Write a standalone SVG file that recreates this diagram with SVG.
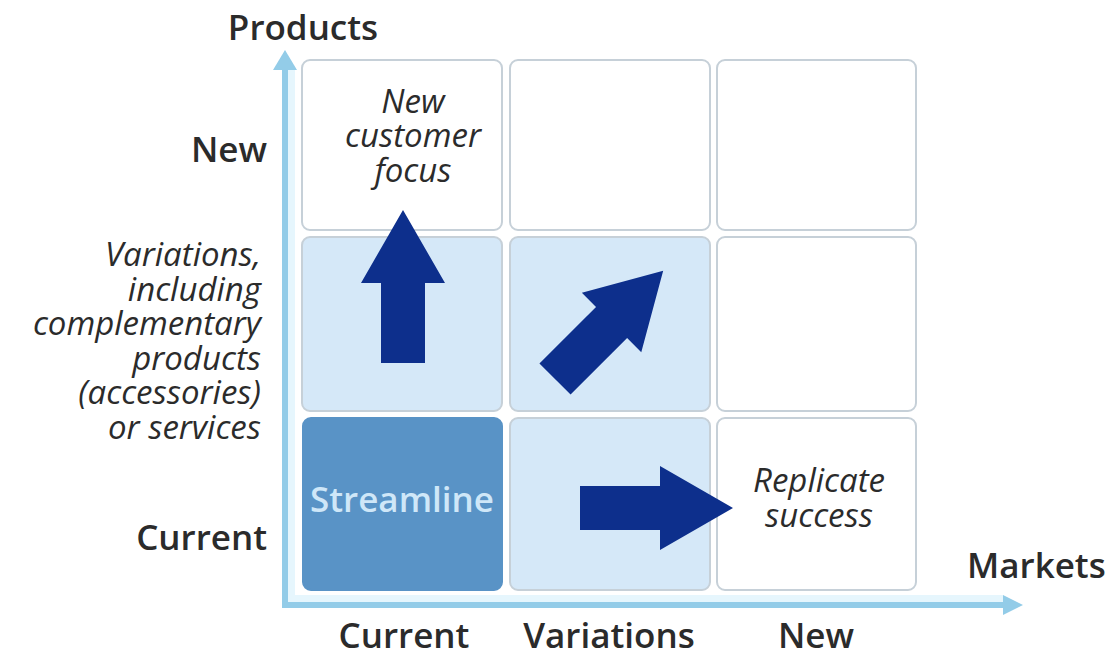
<svg xmlns="http://www.w3.org/2000/svg" width="1111" height="658" viewBox="0 0 1111 658">
<style>
.lbl{font-family:"Open Sans","Liberation Sans",sans-serif;font-weight:600;font-size:35px;fill:#2b2b2b}
.it{font-family:"Open Sans","Liberation Sans",sans-serif;font-style:italic;font-size:33px;fill:#2b2b2b}
.cell{stroke:#c6d0d8;stroke-width:2}
.w{fill:#ffffff}
.lb{fill:#d5e8f8}
.dk{fill:#5993c6;stroke:#5993c6}
.arr{fill:#0d2f8c}
.axis{stroke:#93cce8;stroke-width:6;fill:none}
</style>
<defs>
<path id="bigArrow" d="M0,-22 H80 V-42 L153,0 L80,42 V22 H0 Z"/>
</defs>
<rect width="1111" height="658" fill="#ffffff"/>
<g id="axes">
<path d="M291,70 V599 H1003" fill="none" stroke="#e6f6fd" stroke-width="8"/>
<path class="axis" d="M285,66 V605 H1005"/>
<polygon points="285,50 297,70 273,70" fill="#93cce8"/>
<polygon points="1023,605 1003,595 1003,615" fill="#93cce8"/>
</g>
<g id="cells">
<g id="c-new-current"><rect class="cell w" x="302" y="60" width="200" height="170" rx="8"/></g>
<g id="c-new-variations"><rect class="cell w" x="510" y="60" width="200" height="170" rx="8"/></g>
<g id="c-new-new"><rect class="cell w" x="717" y="60" width="199" height="170" rx="8"/></g>
<g id="c-var-current"><rect class="cell lb" x="302" y="237" width="200" height="174" rx="8"/></g>
<g id="c-var-variations"><rect class="cell lb" x="510" y="237" width="200" height="174" rx="8"/></g>
<g id="c-var-new"><rect class="cell w" x="717" y="237" width="199" height="174" rx="8"/></g>
<g id="c-cur-current"><rect class="cell dk" x="303" y="418" width="199" height="172" rx="8"/>
<text x="402" y="512" text-anchor="middle" class="lbl" style="fill:#cfe7f8">Streamline</text></g>
<g id="c-cur-variations"><rect class="cell lb" x="510" y="418" width="200" height="172" rx="8"/></g>
<g id="c-cur-new"><rect class="cell w" x="717" y="418" width="199" height="172" rx="8"/></g>
</g>
<g id="cell-labels">
<text class="it" text-anchor="middle"><tspan x="413" y="113">New</tspan><tspan x="413" y="147">customer</tspan><tspan x="413" y="182">focus</tspan></text>
<text class="it" text-anchor="middle"><tspan x="819" y="492">Replicate</tspan><tspan x="819" y="527">success</tspan></text>
</g>
<g id="connectors">
<use href="#bigArrow" class="arr" transform="translate(403,363) rotate(-90)"/>
<use href="#bigArrow" class="arr" transform="translate(555,379) rotate(-45)"/>
<use href="#bigArrow" class="arr" transform="translate(580,508)"/>
</g>
<g id="axis-labels">
<text x="303" y="40" text-anchor="middle" class="lbl">Products</text>
<text x="967" y="578" class="lbl">Markets</text>
<text x="267" y="162" text-anchor="end" class="lbl">New</text>
<text x="267" y="550" text-anchor="end" class="lbl">Current</text>
<text class="it" text-anchor="end"><tspan x="261" y="266">Variations,</tspan><tspan x="261" y="300.6">including</tspan><tspan x="261" y="335.2">complementary</tspan><tspan x="261" y="369.8">products</tspan><tspan x="261" y="404.4">(accessories)</tspan><tspan x="261" y="439">or services</tspan></text>
<text x="404" y="648" text-anchor="middle" class="lbl">Current</text>
<text x="609" y="648" text-anchor="middle" class="lbl">Variations</text>
<text x="816" y="648" text-anchor="middle" class="lbl">New</text>
</g>
</svg>
